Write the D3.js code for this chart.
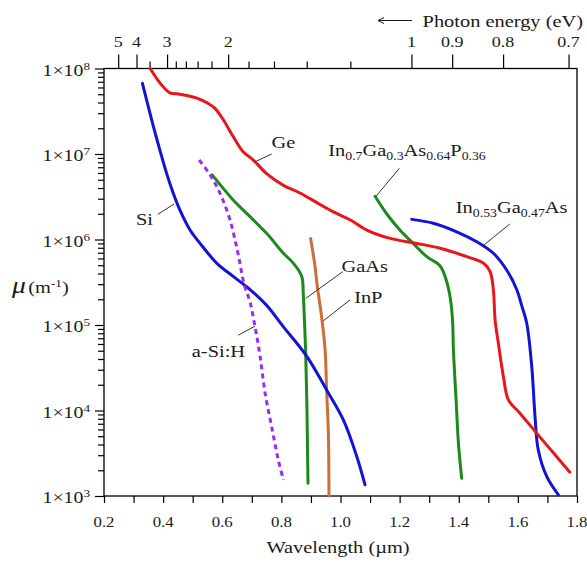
<!DOCTYPE html>
<html>
<head>
<meta charset="utf-8">
<script src="https://cdn.jsdelivr.net/npm/d3@7"></script>
<style>
  html, body { margin: 0; padding: 0; background: #fff; }
  svg { display: block; font-family: "Liberation Serif", "Times New Roman", serif; }
</style>
</head>
<body>
<svg id="chart" width="587" height="562"></svg>
<script>
// Absorption coefficient mu (1/m) versus wavelength (um) for common photodetector materials

const geWavelength = [0.356, 0.395, 0.423, 0.457, 0.514, 0.547, 0.576, 0.604, 0.637, 0.671, 0.705, 0.750, 0.807, 0.863, 0.920, 0.976, 1.032, 1.089, 1.168, 1.258, 1.337, 1.427, 1.483, 1.506, 1.517, 1.523, 1.534, 1.551, 1.568, 1.607, 1.664, 1.720, 1.776];
const geMu = [1.0e8, 6.4e7, 5.2e7, 5.0e7, 4.5e7, 4.0e7, 3.4e7, 2.5e7, 1.6e7, 1.06e7, 8.5e6, 5.9e6, 4.3e6, 3.5e6, 2.7e6, 2.1e6, 1.7e6, 1.29e6, 1.03e6, 9.0e5, 7.9e5, 6.3e5, 5.3e5, 4.2e5, 2.6e5, 1.14e5, 6.1e4, 2.5e4, 1.33e4, 9.3e3, 5.4e3, 3.2e3, 1.9e3];

const siWavelength = [0.330, 0.344, 0.367, 0.389, 0.412, 0.434, 0.457, 0.491, 0.525, 0.581, 0.637, 0.694, 0.750, 0.807, 0.886, 0.953, 1.010, 1.055, 1.083];
const siMu = [6.7e7, 4.3e7, 2.1e7, 1.11e7, 5.9e6, 3.5e6, 2.2e6, 1.29e6, 9.0e5, 5.3e5, 3.7e5, 2.6e5, 1.7e5, 9.5e4, 4.3e4, 1.74e4, 7.7e3, 2.9e3, 1.35e3];

const aSiWavelength = [0.522, 0.559, 0.592, 0.626, 0.653, 0.674, 0.694, 0.711, 0.728, 0.745, 0.767, 0.790, 0.807];
const aSiMu = [8.5e6, 5.7e6, 3.5e6, 1.7e6, 6.95e5, 3.0e5, 1.86e5, 9.5e4, 4.3e4, 1.59e4, 6.5e3, 2.6e3, 1.54e3];

const gaAsWavelength = [0.566, 0.637, 0.694, 0.750, 0.807, 0.840, 0.869, 0.874, 0.878, 0.882, 0.886, 0.890];
const gaAsMu = [5.7e6, 2.9e6, 1.85e6, 1.18e6, 6.9e5, 5.3e5, 3.7e5, 2.35e5, 1.14e5, 5.1e4, 1.33e4, 1.41e3];

const inPWavelength = [0.899, 0.914, 0.920, 0.936, 0.948, 0.953, 0.959, 0.961];
const inPMu = [1.03e6, 4.8e5, 3.1e5, 1.25e5, 5.1e4, 1.74e4, 5.4e3, 1.0e3];

const inGaAsPWavelength = [1.117, 1.156, 1.201, 1.246, 1.292, 1.337, 1.357, 1.371, 1.379, 1.382, 1.391, 1.399, 1.410];
const inGaAsPMu = [3.2e6, 2.0e6, 1.29e6, 9.0e5, 6.3e5, 4.9e5, 3.4e5, 2.1e5, 1.14e5, 5.1e4, 1.33e4, 4.1e3, 1.61e3];

const inGaAsWavelength = [1.241, 1.314, 1.393, 1.461, 1.517, 1.562, 1.596, 1.614, 1.630, 1.647, 1.658, 1.669, 1.698, 1.737];
const inGaAsMu = [1.72e6, 1.55e6, 1.23e6, 9.4e5, 6.9e5, 4.4e5, 2.6e5, 1.64e5, 1.05e5, 3.25e4, 8.5e3, 3.45e3, 1.68e3, 1.03e3];

// Axis ticks
const wavelengthTicks = [0.2, 0.3, 0.4, 0.5, 0.6, 0.7, 0.8, 0.9, 1.0, 1.1, 1.2, 1.3, 1.4, 1.5, 1.6, 1.7, 1.8];
const wavelengthLabels = [0.2, 0.4, 0.6, 0.8, 1.0, 1.2, 1.4, 1.6, 1.8];
const energyLabelled = [5, 4, 3, 2, 1, 0.9, 0.8, 0.7];
const energyMinor = [3.5, 2.8, 2.6, 2.4, 2.2, 1.8, 1.6, 1.4, 1.2];
const muDecades = [3, 4, 5, 6, 7, 8];
const HC = 1.24; // eV·um, lambda = HC / E

const svg = d3.select("#chart");
const x = d3.scaleLinear().domain([0.2, 1.8]).range([104, 577]);
const y = d3.scaleLog().domain([1e3, 1e8]).range([496, 68.5]);
const [x0, x1] = x.range();
const [yB, yT] = y.range();

const STRETCH = 1.2;
const INK = "#1a1a1a";
function addText(parent, px, py, anchor, size) {
  return parent.append("text")
    .attr("transform", `translate(${px},${py}) scale(${STRETCH},1)`)
    .attr("text-anchor", anchor)
    .attr("font-size", size)
    .attr("fill", INK);
}
function styleAxis(g) {
  g.select(".domain").remove();
  g.selectAll(".tick line").attr("stroke", "#000").attr("stroke-width", 1.2);
}

// Bottom axis (wavelength)
const gBottom = svg.append("g").attr("transform", `translate(0,${yB})`)
  .call(d3.axisBottom(x).tickValues(wavelengthTicks).tickSize(7).tickSizeOuter(0).tickFormat(""));
styleAxis(gBottom);
wavelengthLabels.forEach(v => addText(svg, x(v), 527, "middle", 14).text(d3.format(".1f")(v)));
addText(svg, 338, 553, "middle", 17).text("Wavelength (\u00b5m)");

// Top axis (photon energy)
const gTopMajor = svg.append("g").attr("transform", `translate(0,${yT})`)
  .call(d3.axisTop(x).tickValues(energyLabelled.map(e => HC / e)).tickSize(14).tickSizeOuter(0).tickFormat(""));
styleAxis(gTopMajor);
const gTopMinor = svg.append("g").attr("transform", `translate(0,${yT})`)
  .call(d3.axisTop(x).tickValues(energyMinor.map(e => HC / e)).tickSize(7).tickSizeOuter(0).tickFormat(""));
styleAxis(gTopMinor);
energyLabelled.forEach(e => addText(svg, x(HC / e), 47, "middle", 15).text(String(e)));

addText(svg, 583, 26.5, "end", 17).text("Photon energy (eV)");
svg.append("line").attr("x1", 378).attr("x2", 412).attr("y1", 20.5).attr("y2", 20.5)
  .attr("stroke", INK).attr("stroke-width", 1);
svg.append("path").attr("d", "M384,17.5 L378,20.5 L384,23.5").attr("fill", "none")
  .attr("stroke", INK).attr("stroke-width", 1);

// Left axis (absorption coefficient, log scale)
const majorMu = muDecades.map(d => Math.pow(10, d));
const minorMu = [];
muDecades.slice(0, -1).forEach(d => { for (let k = 2; k <= 9; k++) minorMu.push(k * Math.pow(10, d)); });
const gLeftMajor = svg.append("g").attr("transform", `translate(${x0},0)`)
  .call(d3.axisLeft(y).tickValues(majorMu).tickSize(9).tickSizeOuter(0).tickFormat(""));
styleAxis(gLeftMajor);
const gLeftMinor = svg.append("g").attr("transform", `translate(${x0},0)`)
  .call(d3.axisLeft(y).tickValues(minorMu).tickSize(6).tickSizeOuter(0).tickFormat(""));
styleAxis(gLeftMinor);
muDecades.forEach(d => {
  const t = addText(svg, 90, y(Math.pow(10, d)) + 7, "end", 16.5);
  t.append("tspan").text("1\u00d710");
  t.append("tspan").attr("font-size", 11).attr("dy", -6).text(String(d));
});

const yTitle = addText(svg, 12, 293, "start", 17);
yTitle.append("tspan").attr("font-style", "italic").attr("font-size", 23).text("\u03bc");
yTitle.append("tspan").attr("dx", 2).text("(m");
yTitle.append("tspan").attr("font-size", 11).attr("dy", -6).text("-1");
yTitle.append("tspan").attr("dy", 6).text(")");

// Plot frame
svg.append("rect").attr("x", x0).attr("y", yT).attr("width", x1 - x0).attr("height", yB - yT)
  .attr("fill", "none").attr("stroke", "#000").attr("stroke-width", 1.3);

// Curves
const series = [
  { wl: inPWavelength, mu: inPMu, color: "#cc6f35" },
  { wl: gaAsWavelength, mu: gaAsMu, color: "#1c8a1c" },
  { wl: inGaAsPWavelength, mu: inGaAsPMu, color: "#1c8a1c" },
  { wl: siWavelength, mu: siMu, color: "#1313d6" },
  { wl: inGaAsWavelength, mu: inGaAsMu, color: "#1313d6" },
  { wl: geWavelength, mu: geMu, color: "#e8161b" },
  { wl: aSiWavelength, mu: aSiMu, color: "#9a2cf0", dash: "5,4" }
];
const line = d3.line().x(d => x(d[0])).y(d => y(d[1])).curve(d3.curveCatmullRom.alpha(0.5));
const gCurves = svg.append("g");
series.forEach(s => {
  gCurves.append("path")
    .attr("d", line(d3.zip(s.wl, s.mu)))
    .attr("fill", "none")
    .attr("stroke", s.color)
    .attr("stroke-width", 3)
    .attr("stroke-linejoin", "round")
    .attr("stroke-linecap", s.dash ? "butt" : "round")
    .attr("stroke-dasharray", s.dash || null);
});

// Curve labels with leader lines (positions in wavelength / mu units)
const annotations = [
  { parts: [["Ge"]], at: [0.807, 1.38e7], from: [0.767, 1.0e7], to: [0.711, 8.1e6] },
  { parts: [["Si"]], at: [0.337, 1.74e6], from: [0.382, 1.97e6], to: [0.437, 2.6e6] },
  { parts: [["GaAs"]], at: [1.082, 4.94e5], from: [1.0075, 4.2e5], to: [0.883, 2.05e5] },
  { parts: [["InP"]], at: [1.094, 2.1e5], from: [1.032, 1.96e5], to: [0.942, 1.12e5] },
  { parts: [["a-Si:H"]], at: [0.587, 4.97e4], from: [0.654, 7.6e4], to: [0.711, 9.7e4] },
  { parts: [["In"], ["0.7", "sub"], ["Ga"], ["0.3", "sub"], ["As"], ["0.64", "sub"], ["P"], ["0.36", "sub"]],
    at: [1.225, 1.11e7], from: [1.199, 6.8e6], to: [1.120, 3.2e6] },
  { parts: [["In"], ["0.53", "sub"], ["Ga"], ["0.47", "sub"], ["As"]],
    at: [1.579, 2.4e6], from: [1.573, 1.52e6], to: [1.481, 8.4e5] }
];
const gLabels = svg.append("g");
annotations.forEach(a => {
  gLabels.append("line")
    .attr("x1", x(a.from[0])).attr("y1", y(a.from[1]))
    .attr("x2", x(a.to[0])).attr("y2", y(a.to[1]))
    .attr("stroke", "#333").attr("stroke-width", 1);
  const t = addText(gLabels, x(a.at[0]), y(a.at[1]) + 6, "middle", 17);
  let shifted = false;
  a.parts.forEach(([txt, kind]) => {
    const sp = t.append("tspan").text(txt);
    if (kind === "sub" && !shifted) { sp.attr("font-size", 11.5).attr("dy", 4); shifted = true; }
    else if (kind !== "sub" && shifted) { sp.attr("dy", -4); shifted = false; }
    else if (kind === "sub") sp.attr("font-size", 11.5);
  });
});
</script>
</body>
</html>
